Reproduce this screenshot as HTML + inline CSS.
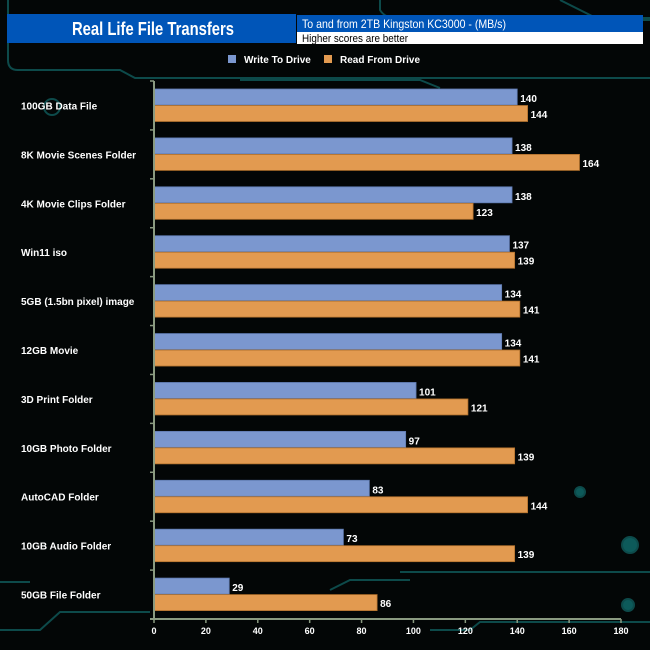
<!DOCTYPE html>
<html><head><meta charset="utf-8"><style>
body{margin:0;width:650px;height:650px;background:#030606;overflow:hidden;font-family:"Liberation Sans",sans-serif}
svg{display:block}
</style></head><body>
<svg width="650" height="650">
<g stroke="#0d4a4a" stroke-width="2" fill="none">
<path d="M8 0 V60 Q8 70 18 70 H120 L135 78 H650"/>
<path d="M380 0 V10 Q385 18 395 18 H650"/>
<path d="M560 0 L600 20 H650"/>
<path d="M240 80 H420 L440 88"/>
<path d="M0 630 H40 L60 612 H150"/>
<path d="M400 572 H650"/>
<path d="M330 590 L350 580 H410"/>
<path d="M430 630 H470 L480 622 H650"/>
<path d="M0 582 H30"/>
<circle cx="628" cy="605" r="6" fill="#0d5a5a"/>
<circle cx="630" cy="545" r="8" fill="#0d5a5a"/>
<circle cx="580" cy="492" r="5" fill="#0d5a5a"/>
<circle cx="52" cy="107" r="8"/>
</g>
<rect x="7" y="14" width="289" height="29" fill="#0055b8"/>
<text x="72" y="35" fill="#fff" font-size="18" font-weight="bold" textLength="162" lengthAdjust="spacingAndGlyphs">Real Life File Transfers</text>
<rect x="297" y="15" width="346" height="17" fill="#0055b8"/>
<text x="302" y="28" fill="#fff" font-size="12" textLength="204" lengthAdjust="spacingAndGlyphs">To and from 2TB Kingston KC3000 - (MB/s)</text>
<rect x="297" y="32" width="346" height="12" fill="#fff"/>
<text x="302" y="42" fill="#000" font-size="11" textLength="106" lengthAdjust="spacingAndGlyphs">Higher scores are better</text>
<rect x="228" y="55" width="8" height="8" fill="#7b97cf"/>
<text x="244" y="63" fill="#fff" font-size="10" font-weight="bold">Write To  Drive</text>
<rect x="324" y="55" width="8" height="8" fill="#e29a50"/>
<text x="340" y="63" fill="#fff" font-size="10" font-weight="bold">Read From  Drive</text>
<g id="plot"></g>
</svg>
<script>
const categories=["100GB Data File","8K Movie Scenes Folder","4K Movie Clips Folder","Win11 iso","5GB (1.5bn pixel) image","12GB Movie","3D Print Folder","10GB Photo Folder","AutoCAD Folder","10GB Audio Folder","50GB File Folder"];
const writeValues=[140,138,138,137,134,134,101,97,83,73,29];
const readValues=[144,164,123,139,141,141,121,139,144,139,86];
const xTicks=[0,20,40,60,80,100,120,140,160,180];
const X0=154,X1=621,XMAX=180,TOP=81,BOT=619;
const x=v=>X0+(X1-X0)*v/XMAX;
const band=(BOT-TOP)/categories.length;
const g=document.getElementById('plot');
const NS='http://www.w3.org/2000/svg';
function mk(t,a){const e=document.createElementNS(NS,t);for(const k in a)e.setAttribute(k,a[k]);g.appendChild(e);return e;}
categories.forEach((c,i)=>{
 const y0=TOP+band*i;
 const t=mk('text',{x:21,y:y0+band/2+4,fill:'#fff','font-size':10,'font-weight':'bold'});t.textContent=c;
 
 
 const b1=mk('rect',{x:X0,y:y0+8,width:x(writeValues[i])-X0,height:16,fill:'#7b97cf',stroke:'#5f7ab0','stroke-width':0.8});
 
 
 const b2=mk('rect',{x:X0,y:y0+24.5,width:x(readValues[i])-X0,height:16,fill:'#e29a50',stroke:'#b0702c','stroke-width':0.8});
 
 
 const l1=mk('text',{x:x(writeValues[i])+3,y:y0+21,fill:'#fff','font-size':10,'font-weight':'bold'});l1.textContent=writeValues[i];
 
 
 const l2=mk('text',{x:x(readValues[i])+3,y:y0+37,fill:'#fff','font-size':10,'font-weight':'bold'});l2.textContent=readValues[i];
 
 
 const tk=mk('line',{x1:X0-4,x2:X0,y1:y0,y2:y0,stroke:'#8a9a80','stroke-width':1.5});
 
 
});
const ya=mk('line',{x1:X0,x2:X0,y1:TOP,y2:BOT,stroke:'#8a9a80','stroke-width':2});


const xa=mk('line',{x1:X0-4,x2:X1,y1:BOT,y2:BOT,stroke:'#8a9a80','stroke-width':2});


xTicks.forEach(v=>{
 const tk=mk('line',{x1:x(v),x2:x(v),y1:BOT,y2:BOT+4,stroke:'#8a9a80','stroke-width':1.5});
 
 
 const t=mk('text',{x:x(v),y:BOT+15,fill:'#fff','font-size':9,'font-weight':'bold','text-anchor':'middle'});t.textContent=v;
 
 
});
</script>
</body></html>
